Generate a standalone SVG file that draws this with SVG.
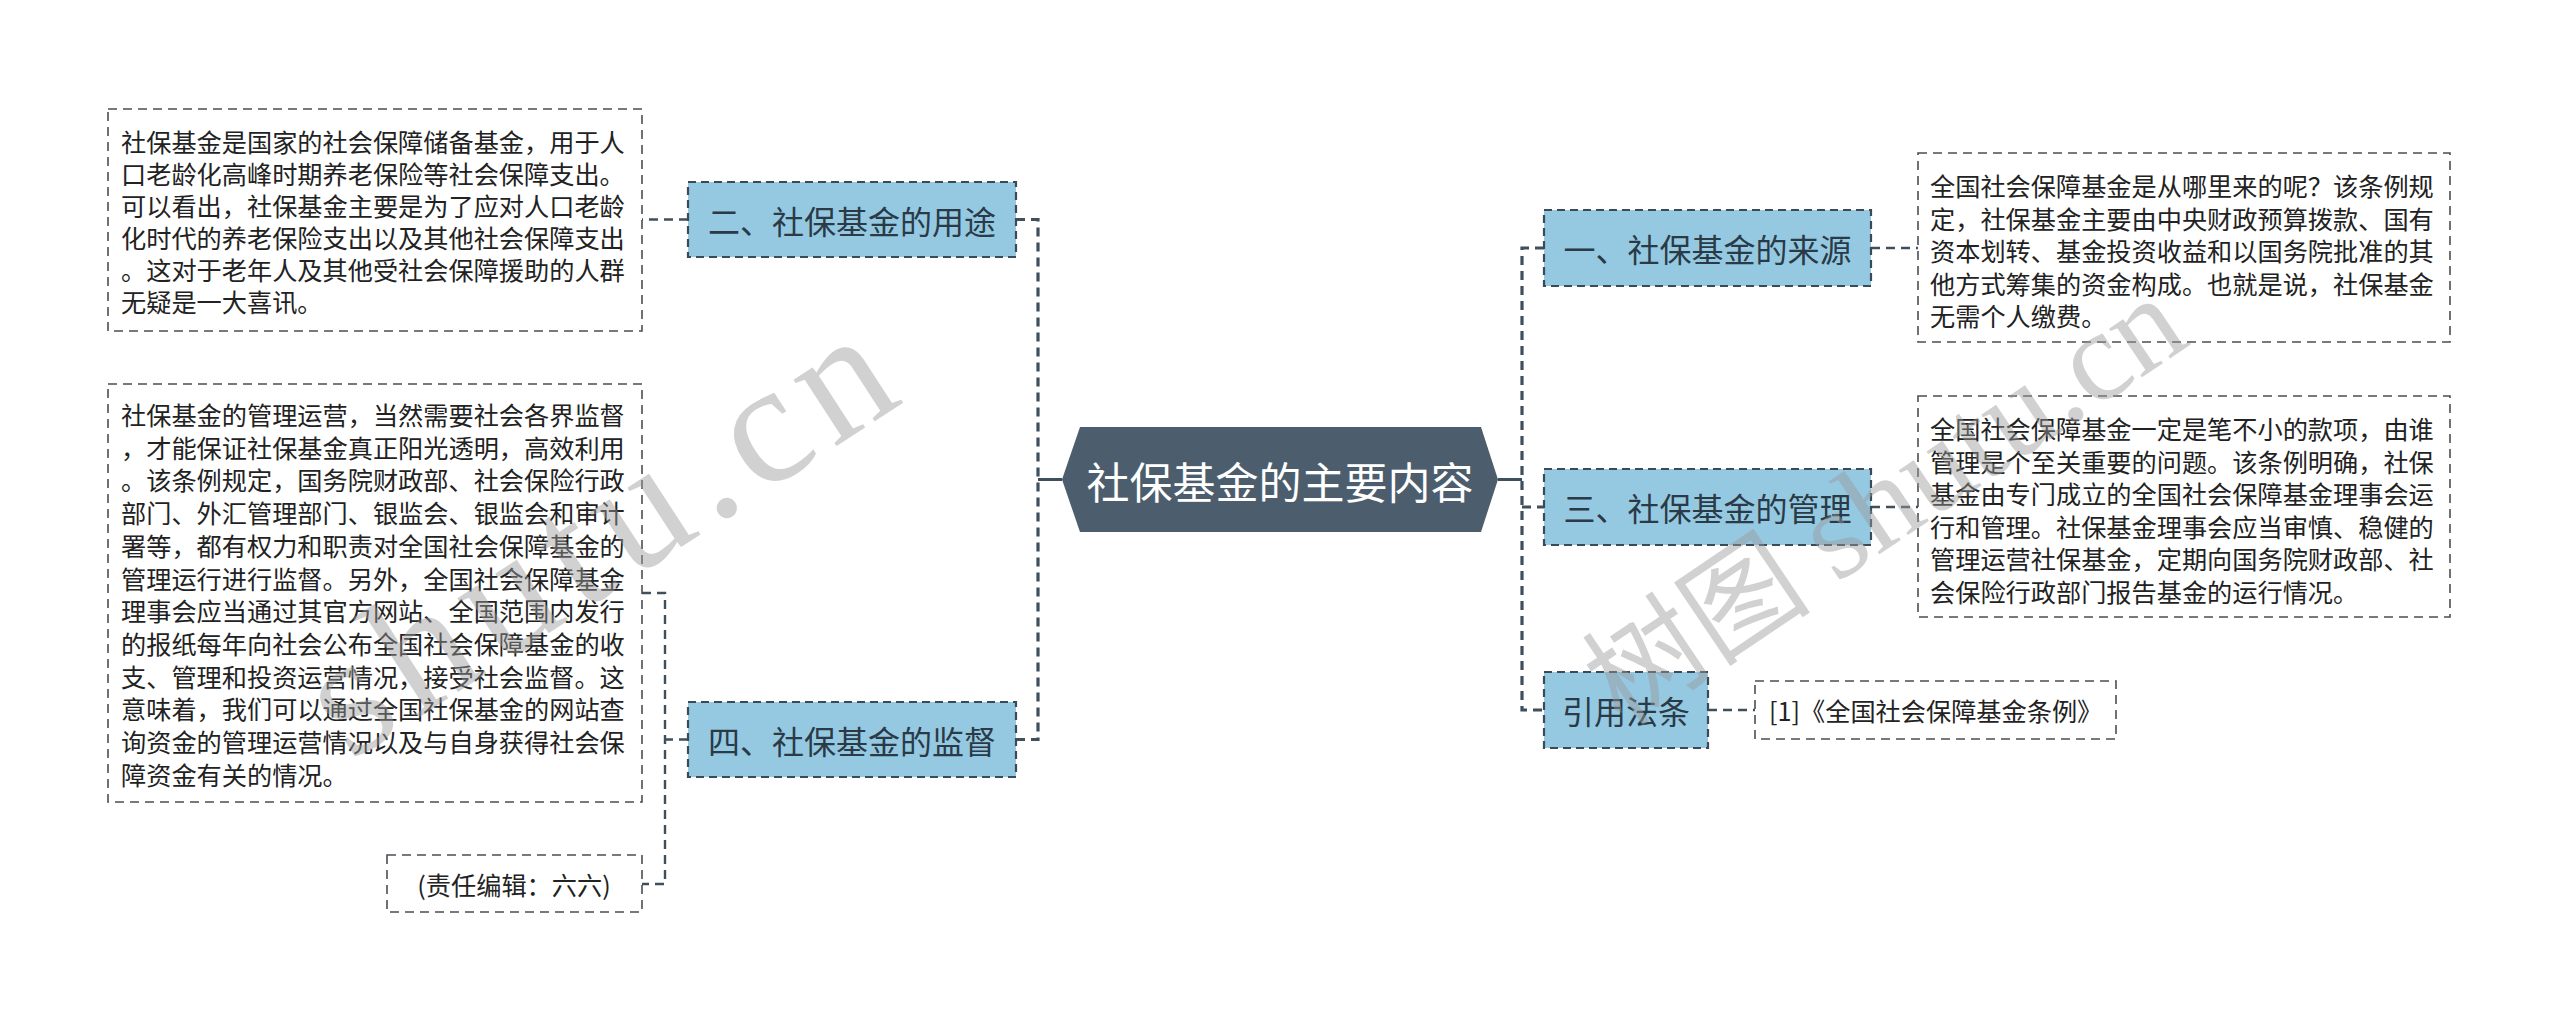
<svg xmlns="http://www.w3.org/2000/svg" width="2560" height="1023" viewBox="0 0 2560 1023">
<style>
.bg{fill:#ffffff}
.node rect{fill:#95c9e2;stroke:#3a4a57;stroke-width:2.2;stroke-dasharray:8 5}
.node text{font-family:"Noto Sans CJK SC","Noto Sans",sans-serif;font-size:32px;fill:#2a3a46;text-anchor:middle;dominant-baseline:central}
.box rect{fill:#ffffff;stroke:#4a4f55;stroke-width:1.6;stroke-dasharray:9 6}
.box text{font-family:"Noto Sans CJK SC","Noto Sans",sans-serif;font-size:25.2px;fill:#222222;dominant-baseline:central}
.conn path{fill:none;stroke:#3f4f5c;stroke-width:2.4;stroke-dasharray:9 6}
.conn path.trunk{stroke-width:3.2}
.conn path.solid{stroke-dasharray:none;stroke-width:3}
.wm{font-family:"Liberation Serif",serif;fill:#9a9a9a;opacity:0.45}
.wmc{font-family:"Noto Sans CJK SC",sans-serif;fill:#9a9a9a;opacity:0.45}
</style>
<rect class="bg" x="0" y="0" width="2560" height="1023"/>

<g id="connectors" class="conn">
  <path class="solid" d="M1062,479.5 H1038"/>
  <path class="trunk" d="M1016,219.5 H1038 V739.5 H1016"/>
  <path d="M688,219.5 H642"/>
  <path d="M688,739.5 H665"/>
  <path d="M642,593 H665 V884 H642"/>
  <path class="solid" d="M1498,479.5 H1522"/>
  <path class="trunk" d="M1544,248 H1522 V710 H1544"/>
  <path class="trunk" d="M1522,507 H1544"/>
  <path d="M1871,248 H1918"/>
  <path d="M1871,507 H1918"/>
  <path d="M1708,710 H1755"/>
</g>

<g id="center">
  <polygon points="1062,479.5 1080,427 1481,427 1498,479.5 1481,532 1080,532" fill="#4c5e6d"/>
  <text x="1280" y="480" font-family="Noto Sans CJK SC, sans-serif" font-size="43" fill="#ffffff" text-anchor="middle" dominant-baseline="central">社保基金的主要内容</text>
</g>

<g id="node-yongtu" class="node">
  <rect x="688" y="182" width="328" height="75"/>
  <text x="852" y="219.5">二、社保基金的用途</text>
</g>
<g id="node-jiandu" class="node">
  <rect x="688" y="702" width="328" height="75"/>
  <text x="852" y="739.5">四、社保基金的监督</text>
</g>
<g id="node-laiyuan" class="node">
  <rect x="1544" y="210" width="327" height="76"/>
  <text x="1707.5" y="248">一、社保基金的来源</text>
</g>
<g id="node-guanli" class="node">
  <rect x="1544" y="469" width="327" height="76"/>
  <text x="1707.5" y="507">三、社保基金的管理</text>
</g>
<g id="node-fatiao" class="node">
  <rect x="1544" y="672" width="164" height="76"/>
  <text x="1626" y="710">引用法条</text>
</g>

<g id="box-yongtu" class="box">
  <rect x="108" y="109" width="534" height="222"/>
  <text x="121" y="141">社保基金是国家的社会保障储备基金，用于人</text>
  <text x="121" y="173">口老龄化高峰时期养老保险等社会保障支出。</text>
  <text x="121" y="205">可以看出，社保基金主要是为了应对人口老龄</text>
  <text x="121" y="237">化时代的养老保险支出以及其他社会保障支出</text>
  <text x="121" y="269">。这对于老年人及其他受社会保障援助的人群</text>
  <text x="121" y="301">无疑是一大喜讯。</text>
</g>

<g id="box-jiandu" class="box">
  <rect x="108" y="384" width="534" height="418"/>
  <text x="121" y="414">社保基金的管理运营，当然需要社会各界监督</text>
  <text x="121" y="446.7">，才能保证社保基金真正阳光透明，高效利用</text>
  <text x="121" y="479.4">。该条例规定，国务院财政部、社会保险行政</text>
  <text x="121" y="512.1">部门、外汇管理部门、银监会、银监会和审计</text>
  <text x="121" y="544.8">署等，都有权力和职责对全国社会保障基金的</text>
  <text x="121" y="577.5">管理运行进行监督。另外，全国社会保障基金</text>
  <text x="121" y="610.2">理事会应当通过其官方网站、全国范围内发行</text>
  <text x="121" y="642.9">的报纸每年向社会公布全国社会保障基金的收</text>
  <text x="121" y="675.6">支、管理和投资运营情况，接受社会监督。这</text>
  <text x="121" y="708.3">意味着，我们可以通过全国社保基金的网站查</text>
  <text x="121" y="741">询资金的管理运营情况以及与自身获得社会保</text>
  <text x="121" y="773.7">障资金有关的情况。</text>
</g>

<g id="box-editor" class="box">
  <rect x="387" y="855" width="255" height="57"/>
  <text x="514" y="884" text-anchor="middle">(责任编辑：六六)</text>
</g>

<g id="box-laiyuan" class="box">
  <rect x="1918" y="153" width="532" height="189"/>
  <text x="1930" y="185">全国社会保障基金是从哪里来的呢？该条例规</text>
  <text x="1930" y="217.6">定，社保基金主要由中央财政预算拨款、国有</text>
  <text x="1930" y="250.2">资本划转、基金投资收益和以国务院批准的其</text>
  <text x="1930" y="282.8">他方式筹集的资金构成。也就是说，社保基金</text>
  <text x="1930" y="315.4">无需个人缴费。</text>
</g>

<g id="box-guanli" class="box">
  <rect x="1918" y="396" width="532" height="221"/>
  <text x="1930" y="428">全国社会保障基金一定是笔不小的款项，由谁</text>
  <text x="1930" y="460.6">管理是个至关重要的问题。该条例明确，社保</text>
  <text x="1930" y="493.2">基金由专门成立的全国社会保障基金理事会运</text>
  <text x="1930" y="525.8">行和管理。社保基金理事会应当审慎、稳健的</text>
  <text x="1930" y="558.4">管理运营社保基金，定期向国务院财政部、社</text>
  <text x="1930" y="591">会保险行政部门报告基金的运行情况。</text>
</g>

<g id="box-fatiao" class="box">
  <rect x="1755" y="681" width="361" height="58"/>
  <text x="1769" y="710">[1]《全国社会保障基金条例》</text>
</g>

<g id="watermark">
  <text class="wm" font-size="172" letter-spacing="12" opacity="0.4" transform="translate(350,762) rotate(-33)">shutu.cn</text>
  <text transform="translate(1622,728) rotate(-34)"><tspan class="wmc" font-size="115">树图</tspan><tspan class="wm" font-size="128" dx="28">shutu.cn</tspan></text>
</g>
</svg>
